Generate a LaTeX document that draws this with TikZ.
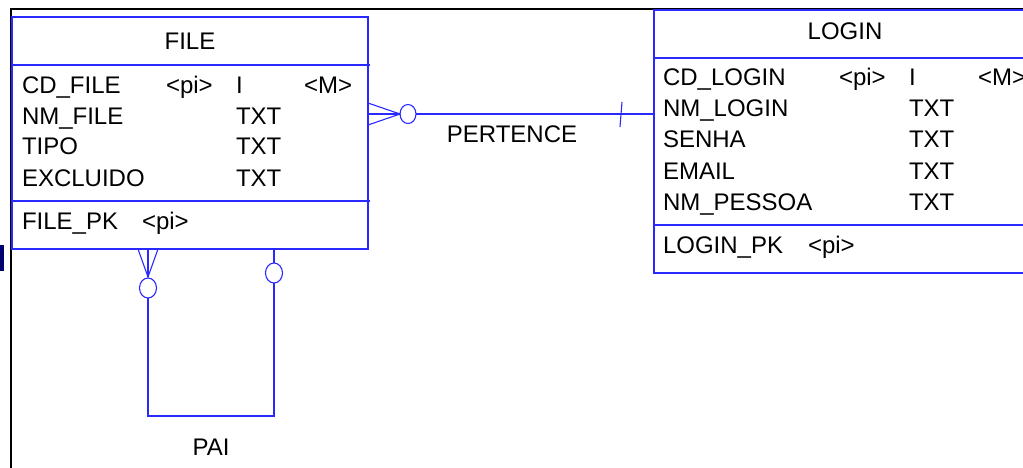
\documentclass[tikz,border=0pt]{standalone}
\usepackage{fontspec}
\setmainfont{Liberation Sans}
\definecolor{erblue}{RGB}{40,40,255}
\definecolor{navyblk}{RGB}{0,0,110}
\begin{document}
\begin{tikzpicture}[x=1pt,y=-1pt,
  every node/.style={inner sep=0pt, outer sep=0pt, font=\fontsize{24}{28}\selectfont},
  txt/.style={anchor=base west},
  ttl/.style={anchor=base},
  ent/.style={draw=erblue, line width=1.1pt},
  rel/.style={draw=erblue, line width=1.1pt}]
\useasboundingbox (0,0) rectangle (1023,468);
\clip (0,0) rectangle (1023,468);
% outer frame
\draw[black, line width=1.5pt] (11,470) -- (11,9) -- (1030,9);
\fill[navyblk] (0,245) rectangle (4,271);

% FILE entity
\node[ent, anchor=north west, minimum width=356pt, minimum height=232pt] (file) at (12,17) {};
\draw[ent] (12,65) -- (370,65);
\draw[ent] (12,201) -- (370,201);
\node[ttl] (fileT) at (190,49.5) {FILE};
\node[txt] (f1a) at (22,93.5) {CD\_FILE};
\node[txt] (f1b) at (166,93.5) {<pi>};
\node[txt] (f1c) at (236,93.5) {I};
\node[txt] (f1d) at (304,93.5) {<M>};
\node[txt] (f2a) at (22,124.5) {NM\_FILE};
\node[txt] (f2c) at (236,124.5) {TXT};
\node[txt] (f3a) at (22,155) {TIPO};
\node[txt] (f3c) at (236,155) {TXT};
\node[txt] (f4a) at (22,186.5) {EXCLUIDO};
\node[txt] (f4c) at (236,186.5) {TXT};
\node[txt] (fpk) at (22,229.5) {FILE\_PK};
\node[txt] (fpkb) at (142,229.5) {<pi>};

% LOGIN entity
\node[ent, anchor=north west, minimum width=382pt, minimum height=263pt] (login) at (654,10) {};
\draw[ent] (654,58) -- (1040,58);
\draw[ent] (654,225) -- (1040,225);
\node[ttl] (loginT) at (845,39.5) {LOGIN};
\node[txt] (l1a) at (663,85.5) {CD\_LOGIN};
\node[txt] (l1b) at (839,85.5) {<pi>};
\node[txt] (l1c) at (909,85.5) {I};
\node[txt] (l1d) at (978,85.5) {<M>};
\node[txt] (l2a) at (663,116.5) {NM\_LOGIN};
\node[txt] (l2c) at (909,116.5) {TXT};
\node[txt] (l3a) at (663,148) {SENHA};
\node[txt] (l3c) at (909,148) {TXT};
\node[txt] (l4a) at (663,179.5) {EMAIL};
\node[txt] (l4c) at (909,179.5) {TXT};
\node[txt] (l5a) at (663,210.5) {NM\_PESSOA};
\node[txt] (l5c) at (909,210.5) {TXT};
\node[txt] (lpk) at (663,253.5) {LOGIN\_PK};
\node[txt] (lpkb) at (808,253.5) {<pi>};

% PERTENCE relationship
\coordinate (pf) at (368,114);
\coordinate (pc) at (400,114);
\coordinate (pl) at (654,114);
\draw[rel] (368,103) -- (pc) -- (368,125);
\draw[rel] (pf) -- (pc);
\draw[rel] (408,114) ellipse [x radius=8pt, y radius=9.5pt];
\draw[rel] (416,114) -- (pl);
\draw[rel] (622,102) -- (620,127);
\node[ttl] (pert) at (512,142.5) {PERTENCE};

% PAI relationship
\coordinate (qa) at (148,277);
\draw[rel] (138,249) -- (qa) -- (158,249);
\draw[rel] (148,249) -- (qa);
\draw[rel] (148,288) ellipse [x radius=8.5pt, y radius=10pt];
\draw[rel] (148,298) -- (148,416) -- (274,416) -- (274,283);
\draw[rel] (274,273) ellipse [x radius=8.5pt, y radius=10pt];
\draw[rel] (274,263) -- (274,249);
\node[ttl] (pai) at (211,455.5) {PAI};
\end{tikzpicture}
\end{document}
